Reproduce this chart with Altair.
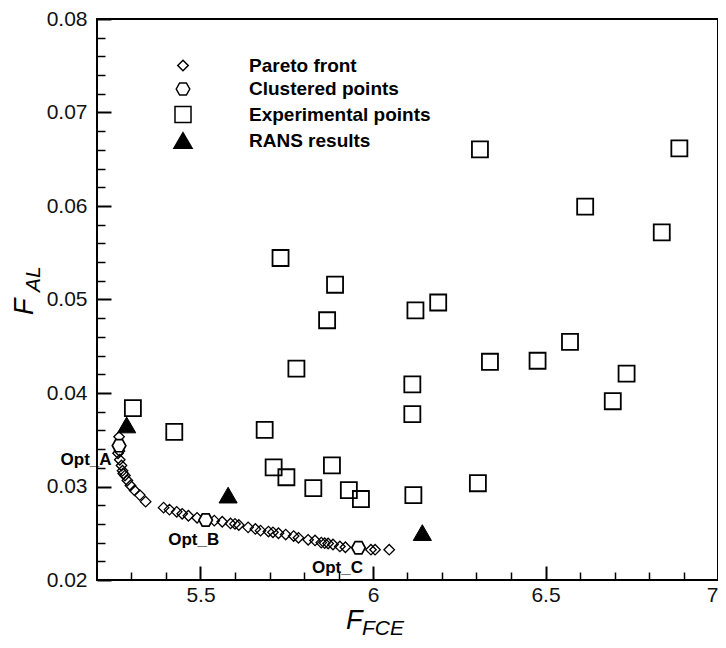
import altair as alt
import pandas as pd

# ---------------- data ----------------
series_names = ["Pareto front", "Clustered points", "Experimental points", "RANS results"]

pareto_x = [5.264, 5.261, 5.265, 5.266, 5.271, 5.274, 5.276, 5.281, 5.288, 5.297, 5.309, 5.324, 5.341,
            5.393, 5.410, 5.431, 5.447, 5.465, 5.490, 5.540, 5.563, 5.587, 5.600, 5.611, 5.638, 5.659, 5.674, 5.697, 5.710,
            5.726, 5.747, 5.770, 5.784, 5.812, 5.832, 5.850, 5.860, 5.870, 5.884, 5.904, 5.920, 5.994, 6.006, 6.047]
pareto_y = [0.03532, 0.03355, 0.03380, 0.03286, 0.03225, 0.03169, 0.03140, 0.03117, 0.03064, 0.03011, 0.02958, 0.02908, 0.02838,
            0.02774, 0.02753, 0.02729, 0.02708, 0.02687, 0.02665, 0.02635, 0.02623, 0.02605, 0.02600, 0.02588, 0.02563, 0.02546, 0.02528, 0.02518, 0.02510,
            0.02500, 0.02486, 0.02470, 0.02451, 0.02430, 0.02423, 0.02400, 0.02394, 0.02390, 0.02380, 0.02359, 0.02350, 0.02324, 0.02324, 0.02324]

clustered_x = [5.264, 5.515, 5.958]
clustered_y = [0.03437, 0.02641, 0.02345]
clustered_label = ["Opt_A", "Opt_B", "Opt_C"]

exp_x = [5.304, 5.424, 5.686, 5.712, 5.749, 5.827, 5.881, 5.930, 5.965, 6.117, 6.304,
         5.732, 5.890, 5.867, 5.778, 6.123, 6.189, 6.114, 6.114, 6.339, 6.477, 6.571,
         6.735, 6.695, 6.615, 6.837, 6.310, 6.888]
exp_y = [0.03838, 0.03584, 0.03606, 0.03204, 0.03099, 0.02982, 0.03225, 0.02961, 0.02866, 0.02908, 0.03035,
         0.05444, 0.05158, 0.04778, 0.04260, 0.04884, 0.04968, 0.04092, 0.03775, 0.04334, 0.04345, 0.04546,
         0.04208, 0.03912, 0.05993, 0.05718, 0.06606, 0.06616]

rans_x = [5.286, 5.580, 6.143]
rans_y = [0.03658, 0.02908, 0.02507]

x_major = [5.5, 6.0, 6.5, 7.0]
x_minor = [5.3, 5.4, 5.6, 5.7, 5.8, 5.9, 6.1, 6.2, 6.3, 6.4, 6.6, 6.7, 6.8, 6.9]
y_major = [0.02, 0.03, 0.04, 0.05, 0.06, 0.07, 0.08]
y_minor = [0.022, 0.024, 0.026, 0.028, 0.032, 0.034, 0.036, 0.038, 0.042, 0.044, 0.046, 0.048,
           0.052, 0.054, 0.056, 0.058, 0.062, 0.064, 0.066, 0.068, 0.072, 0.074, 0.076, 0.078]

x_title_main, x_title_sub = "F", "FCE"
y_title_main, y_title_sub = "F", "AL"

# ---------------- tables ----------------
df_pareto = pd.DataFrame({"x": pareto_x, "y": pareto_y, "series": series_names[0]})
df_clust = pd.DataFrame({"x": clustered_x, "y": clustered_y, "series": series_names[1], "label": clustered_label})
df_exp = pd.DataFrame({"x": exp_x, "y": exp_y, "series": series_names[2]})
df_rans = pd.DataFrame({"x": rans_x, "y": rans_y, "series": series_names[3]})

FONT = "Liberation Sans"
hex_path = "M-1,0L-0.5,-0.9L0.5,-0.9L1,0L0.5,0.9L-0.5,0.9Z"

x_scale = alt.Scale(domain=[5.2, 7.0], nice=False, zero=False)
y_scale = alt.Scale(domain=[0.02, 0.08], nice=False, zero=False)
shape_scale = alt.Scale(domain=series_names, range=["diamond", hex_path, "square", "triangle-up"])
size_scale = alt.Scale(domain=series_names, range=[110, 330, 120, 210])
fill_scale = alt.Scale(domain=series_names, range=["transparent", "white", "transparent", "black"])
stroke_scale = alt.Scale(domain=series_names, range=["black", "black", "black", "black"])

legend = alt.Legend(title=None, orient="none", legendX=76, legendY=37,
                    labelFont=FONT, labelFontSize=19, labelFontWeight="bold", labelColor="black",
                    labelOffset=56, rowPadding=3.5, symbolStrokeColor="black", symbolStrokeWidth=1.5,
                    padding=0, labelLimit=400)

major_x_axis = alt.Axis(orient="bottom", values=x_major, offset=-14, tickSize=14, tickWidth=2,
                        tickColor="black", domain=False, grid=False, labelFont=FONT, labelFontSize=21,
                        labelColor="#111111", labelPadding=4, format="~g", labelFlush=True,
                        labelOverlap=False, title=None)
major_y_axis = alt.Axis(orient="left", values=y_major, offset=-14, tickSize=14, tickWidth=2,
                        tickColor="black", domain=False, grid=False, labelFont=FONT, labelFontSize=21,
                        labelColor="#111111", labelPadding=10, format=".2f", labelFlush=False,
                        labelOverlap=False, title=None)
minor_x_axis = alt.Axis(orient="bottom", values=x_minor, offset=-8, tickSize=8, tickWidth=1.5,
                        tickColor="black", domain=False, grid=False, labels=False, title=None)
minor_y_axis = alt.Axis(orient="left", values=y_minor, offset=-8, tickSize=8, tickWidth=1.5,
                        tickColor="black", domain=False, grid=False, labels=False, title=None)


def points(df, stroke_width, xaxis=None, yaxis=None):
    return alt.Chart(df).mark_point(filled=False, strokeWidth=stroke_width,
                                    opacity=1, fillOpacity=1, strokeOpacity=1).encode(
        x=alt.X("x:Q", scale=x_scale, axis=xaxis),
        y=alt.Y("y:Q", scale=y_scale, axis=yaxis),
        shape=alt.Shape("series:N", scale=shape_scale, legend=legend),
        size=alt.Size("series:N", scale=size_scale, legend=legend),
        fill=alt.Fill("series:N", scale=fill_scale, legend=legend),
        stroke=alt.Stroke("series:N", scale=stroke_scale, legend=legend),
    )


pareto_layer = points(df_pareto, 1.3, minor_x_axis, minor_y_axis)
clust_layer = points(df_clust, 1.7)
exp_layer = points(df_exp, 1.8, major_x_axis, major_y_axis)
rans_layer = points(df_rans, 1.0)


def opt_label(name, dx, dy):
    return alt.Chart(df_clust).transform_filter(alt.datum.label == name).mark_text(
        font=FONT, fontSize=17, fontWeight="bold", color="black", dx=dx, dy=dy,
        align="center", baseline="middle").encode(
        x=alt.X("x:Q", scale=x_scale, axis=None),
        y=alt.Y("y:Q", scale=y_scale, axis=None),
        text="label:N")


labels = [opt_label("Opt_A", -33, 14), opt_label("Opt_B", -12, 20), opt_label("Opt_C", -21, 20)]


def title_text(txt, px, py, size, angle=0):
    return alt.Chart(pd.DataFrame({"t": [txt]})).mark_text(
        font=FONT, fontSize=size, fontStyle="italic", color="black", align="left",
        baseline="alphabetic", angle=angle).encode(
        x=alt.value(px), y=alt.value(py), text="t:N")


titles = [
    title_text(x_title_main, 249, 610, 27),
    title_text(x_title_sub, 265, 616, 21),
    title_text(y_title_main, -64, 296, 27, angle=270),
    title_text(y_title_sub, -57, 273, 21, angle=270),
]

chart = alt.layer(pareto_layer, clust_layer, exp_layer, rans_layer, *labels, *titles).resolve_axis(
    x="independent", y="independent"
).properties(
    width=621, height=561,
    padding={"left": 89, "top": 11, "right": 0, "bottom": 60},
    autosize=alt.AutoSizeParams(type="none"),
).configure_view(stroke="black", strokeWidth=2)

chart.save("out.html", embed_options={"renderer": "svg", "actions": False})
